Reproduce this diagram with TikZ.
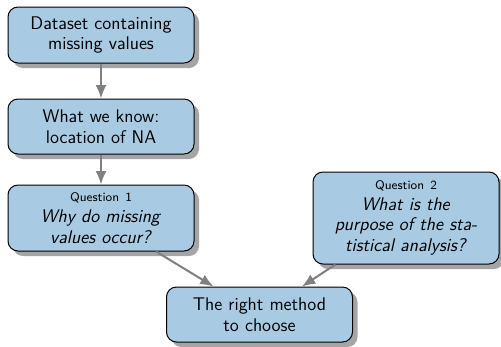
\documentclass[tikz,border=0pt]{standalone}
\usetikzlibrary{shadows,arrows.meta}
\definecolor{caixa}{RGB}{168,202,226}
\definecolor{sombra}{RGB}{165,165,165}
\definecolor{seta}{RGB}{128,128,128}

\begin{document}
\begin{tikzpicture}[x=0.6pt,y=-0.6pt,
    etapa/.style={draw=black, line width=0.6pt, fill=caixa, rounded corners=6pt,
        minimum width=111.6pt, text width=106pt, align=center, inner sep=2pt,
        font=\sffamily\fontsize{11}{12.4}\selectfont,
        drop shadow={shadow xshift=3pt, shadow yshift=-3pt, fill=sombra, opacity=1}},
    fluxo/.style={draw=seta, line width=1.2pt, -{Latex[length=8pt,width=6.5pt]}}]

    % 1. Moldura da figura (fixa as margens)
    \useasboundingbox (0,0) rectangle (501,346);

    % 2. Caixas do fluxo
    \node[etapa, minimum height=33.6pt] (dados) at (101,35)
        {Dataset containing\\missing values};
    \node[etapa, minimum height=33pt] (sabemos) at (101,126.5)
        {What we know:\\location of NA};
    \node[etapa, minimum height=39.6pt] (pergunta1) at (101,218)
        {{\fontsize{7.5}{9}\selectfont Question 1}\\\textit{Why do missing}\\\textit{values occur?}};
    \node[etapa, minimum height=55.2pt] (pergunta2) at (406,218)
        {{\fontsize{7.5}{9}\selectfont Question 2}\\\textit{What is the}\\\textit{purpose of the sta-}\\\textit{tistical analysis?}};
    \node[etapa, minimum height=33pt] (metodo) at (259.5,314.5)
        {The right method\\to choose};

    % 3. Setas entre as caixas
    \draw[fluxo] (dados) -- (sabemos);
    \draw[fluxo] (sabemos) -- (pergunta1);
    \draw[fluxo] (pergunta1) -- (metodo);
    \draw[fluxo] (pergunta2) -- (metodo);

\end{tikzpicture}
\end{document}
